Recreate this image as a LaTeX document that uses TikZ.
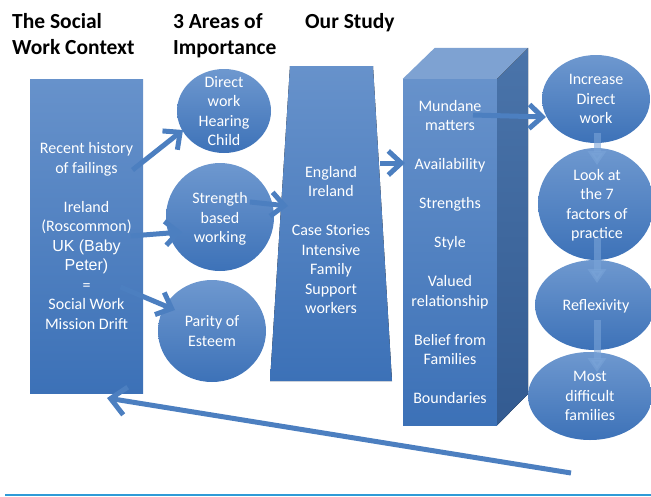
\documentclass[tikz,border=0pt]{standalone}
\usepackage{fontspec}
\setmainfont{Carlito}
\newfontfamily\arialfont{Liberation Sans}
\usetikzlibrary{positioning,shapes.geometric,arrows.meta,calc}
\definecolor{PanelTop}{HTML}{6792CB}
\definecolor{PanelBot}{HTML}{3C71B7}
\definecolor{BlobTop}{HTML}{6E98CF}
\definecolor{BlobBot}{HTML}{3D72B8}
\definecolor{BoxTop}{HTML}{7EA2D2}
\definecolor{SideTop}{HTML}{4A74AA}
\definecolor{SideBot}{HTML}{335B91}
\definecolor{PushBlue}{HTML}{4C7FC0}
\definecolor{DropBlue}{HTML}{7AA4D8}
\definecolor{RuleBlue}{HTML}{2F9BD7}

\begin{document}
\begin{tikzpicture}[x=1pt,y=-1pt]
  \tikzstyle{panel}=[top color=PanelTop,bottom color=PanelBot,inner sep=0pt]
  \tikzstyle{blob}=[ellipse,top color=BlobTop,bottom color=BlobBot,inner sep=0pt]
  \tikzstyle{words}=[text=white,align=center,inner sep=0pt,
    font=\fontsize{16}{19.5}\selectfont]
  \tikzstyle{heading}=[anchor=north west,align=left,inner sep=0pt,
    font=\bfseries\fontsize{21.5}{26}\selectfont]
  \tikzstyle{push}=[line width=5pt,draw=PushBlue,
    -{Straight Barb[length=13pt,width=24pt]}]
  \tikzstyle{drop}=[line width=7pt,draw=DropBlue,opacity=.6,
    -{Triangle[length=14pt,width=18pt]}]
  \useasboundingbox (0,0) rectangle (651,496);

  % headings
  \node[heading] (h1) at (12,13) {The Social\\Work Context};
  \node[heading] (h2) at (173,13) {3 Areas of\\Importance};
  \node[heading] (h3) at (305,13) {Our Study};

  % social work context
  \node[panel,minimum width=113pt,minimum height=314pt] (ctx) at (86.5,236) {};
  \node[words] (ctxtxt) at (ctx) {Recent history\\of failings\\[19.5pt]
    Ireland\\(Roscommon)\\{\arialfont UK (Baby}\\{\arialfont Peter)}\\=\\
    Social Work\\Mission Drift};

  % three areas
  \node[blob,minimum width=94pt,minimum height=84pt] (c1) at (224,111) {};
  \node[words] at (c1) {Direct\\work\\Hearing\\Child};
  \node[blob,minimum width=108pt,minimum height=108pt] (c2) at (220,217) {};
  \node[words] at ($(c2)+(0,2)$) {Strength\\based\\working};
  \node[blob,minimum width=108pt,minimum height=102pt] (c3) at (212,331) {};
  \node[words] at (c3) {Parity of\\Esteem};

  % our study
  \fill[top color=PanelTop,bottom color=PanelBot]
    (290,66) -- (373,66) -- (392,381) -- (270,381) -- cycle;
  \node[words] (study) at (331,240) {England\\Ireland\\[19.5pt]
    Case Stories\\Intensive\\Family\\Support\\workers};

  % findings box
  \node[panel,minimum width=94pt,minimum height=346pt] (traits) at (450,252) {};
  \fill[BoxTop] (traits.north west) -- ++(32,-31) -- ++(93,0)
    -- (traits.north east) -- cycle;
  \fill[top color=SideTop,bottom color=SideBot] (traits.north east)
    -- ++(31,-31) -- ++(0,346) -- (traits.south east) -- cycle;
  \node[words] at (traits) {Mundane\\matters\\[19.5pt]Availability\\[19.5pt]
    Strengths\\[19.5pt]Style\\[19.5pt]Valued\\relationship\\[19.5pt]
    Belief from\\Families\\[19.5pt]Boundaries};

  % outcomes
  \node[blob,minimum width=108pt,minimum height=88pt] (r1) at (596,99) {};
  \node[words] at (r1) {Increase\\Direct\\work};
  \node[blob,minimum width=116pt,minimum height=112pt] (r2) at (596,204) {};
  \node[words] at ($(r2)+(1,1)$) {Look at\\the 7\\factors of\\practice};
  \node[blob,minimum width=120pt,minimum height=90pt] (r3) at (595,305) {};
  \node[words] at ($(r3)+(1,1)$) {Reflexivity};
  \node[blob,minimum width=124pt,minimum height=88pt] (r4) at (590,396) {};
  \node[words] at (r4) {Most\\difficult\\families};

  % connectors
  \draw[push] ($(ctx)+(46,-66)$) -- ($(c1)+(-41,19)$);
  \draw[push] ($(ctx)+(44,0)$) -- ($(c2)+(-38,15)$);
  \draw[push] ($(ctx)+(34,51)$) -- ($(c3)+(-37,-21)$);
  \draw[push] ($(c2)+(30,-15)$) -- ($(study)+(-43,-34)$);
  \draw[push] ($(study)+(49,-77)$) -- ($(traits)+(-45,-89)$);
  \draw[push] ($(traits)+(23,-137)$) -- ($(r1)+(-50,18)$);
  \draw[drop] ($(r1)+(1,34)$) -- ($(r2)+(1,-39)$);
  \draw[drop] ($(r2)+(1,34)$) -- ($(r3)+(2,-22)$);
  \draw[drop] ($(r3)+(2,15)$) -- ($(r4)+(7,-24)$);
  \coordinate (loop) at (571,473);
  \draw[push,-{Straight Barb[length=15pt,width=28pt]}] (loop) -- ($(ctx)+(20.5,162)$);

  \draw[line width=2.5pt,draw=RuleBlue] (5,495) -- (651,495);
\end{tikzpicture}
\end{document}
